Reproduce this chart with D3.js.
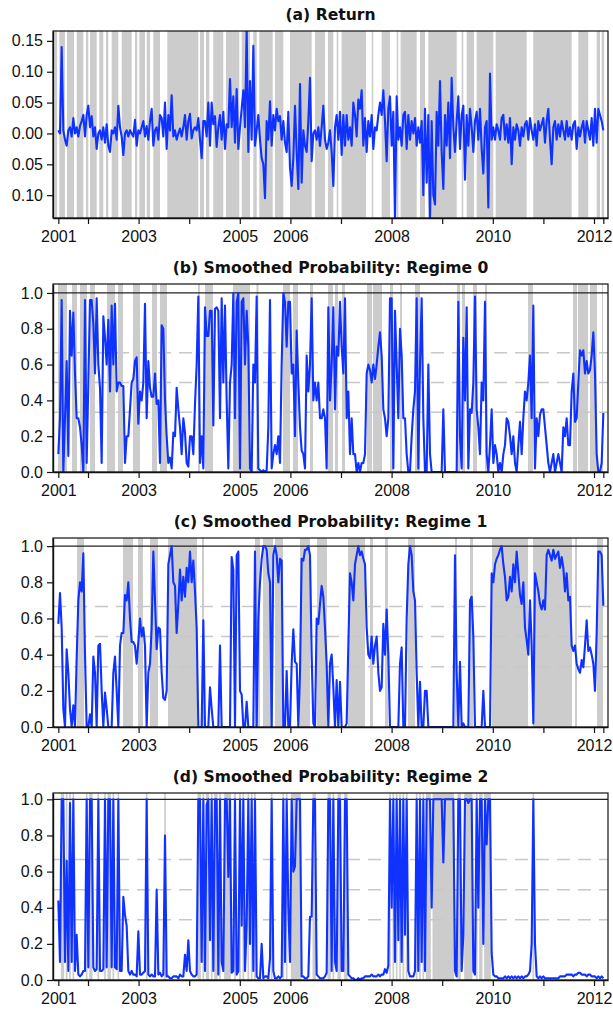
<!DOCTYPE html>
<html><head><meta charset="utf-8">
<script src="https://cdn.jsdelivr.net/npm/d3@7"></script>
<style>body{margin:0;background:#fff}</style>
</head><body><svg id="c" width="613" height="1012"></svg>
<script>
// ---------- data ----------
const startYear = 2001.4137;   // first observation (mid 2001)
const stepYear = 0.032938;     // spacing between observations (years)

const returns = [
0.005,0.0,0.14,0.005,-0.01,-0.02,0.005,0.01,-0.005,0.025,
0.0,0.01,-0.005,0.012,0.02,0.03,-0.005,0.03,0.045,0.01,
0.028,-0.005,0.01,-0.025,0.0,0.005,-0.01,0.01,-0.015,0.015,
-0.02,-0.03,0.005,0.0,0.01,-0.01,0.045,0.01,-0.005,-0.035,
0.0,0.005,-0.005,0.005,0.0,-0.005,0.022,-0.02,0.005,0.0,
0.01,0.02,-0.005,0.012,-0.01,0.02,0.04,-0.02,0.005,0.01,
-0.01,0.03,0.025,-0.005,0.05,-0.025,0.03,0.005,0.062,-0.005,
0.005,-0.01,0.0,0.008,-0.005,0.01,0.03,-0.01,0.02,0.032,
-0.008,0.005,0.01,0.005,0.025,-0.01,-0.04,0.02,0.02,-0.005,
0.05,-0.02,0.05,0.015,0.028,-0.022,0.01,0.03,-0.01,0.035,
-0.025,0.015,0.01,0.088,0.01,0.06,-0.015,0.072,-0.025,0.01,
0.04,0.07,0.01,0.168,-0.03,0.085,-0.01,0.142,-0.02,0.005,
0.03,-0.01,-0.04,-0.05,-0.105,0.02,-0.01,0.052,-0.02,0.03,
0.005,0.04,0.02,0.028,-0.01,0.02,-0.015,-0.03,0.035,-0.055,
-0.085,-0.04,0.045,-0.03,-0.09,
0.08,-0.08,0.005,-0.02,-0.03,0.02,0.09,-0.045,0.0,0.005,
-0.01,0.01,-0.02,0.01,0.045,-0.01,-0.025,-0.015,0.005,-0.03,
-0.085,0.01,0.03,-0.01,0.035,-0.035,0.03,-0.02,0.03,-0.01,
0.01,-0.02,0.05,0.03,-0.005,0.055,0.04,0.07,-0.02,0.025,
-0.03,0.02,-0.005,0.03,-0.025,0.01,0.005,0.03,0.05,0.03,
0.07,0.02,-0.045,0.04,0.06,-0.02,0.035,-0.14,0.06,-0.01,
0.01,-0.02,0.03,0.035,-0.025,0.03,-0.01,0.02,0.0,0.025,
-0.02,0.01,-0.015,0.02,-0.1,0.04,-0.08,0.03,-0.14,0.02,
-0.1,-0.115,0.035,-0.02,0.085,-0.03,-0.09,0.03,-0.02,0.05,
-0.04,0.09,0.01,-0.03,0.02,0.06,-0.025,0.03,0.045,-0.075,
0.03,-0.02,0.04,0.01,-0.03,0.02,0.035,-0.01,0.04,-0.025,
-0.065,0.01,0.02,-0.12,0.097,-0.01,0.01,-0.01,0.015,0.005,
-0.01,0.025,0.03,-0.01,0.015,-0.015,0.025,-0.05,0.01,-0.01,
0.015,0.005,-0.02,0.01,-0.005,0.015,0.02,-0.01,0.025,0.005,
-0.01,0.015,-0.02,0.02,0.005,0.015,0.025,-0.015,0.02,0.04,
-0.01,-0.05,0.01,0.02,-0.01,0.015,-0.005,0.02,0.005,-0.01,
0.02,-0.005,0.01,-0.01,0.015,0.02,-0.025,0.01,-0.005,0.01,
0.02,-0.015,0.02,0.005,-0.01,0.025,-0.02,0.04,-0.015,0.04,
0.03,0.02,0.005
];

const prob0 = [
0.1,0.3,0.96,0.0,0.3,0.62,0.09,0.9,0.65,0.89,
0.55,0.3,0.3,0.25,0.15,0.0,0.96,0.05,0.5,0.96,
0.96,0.83,0.55,0.97,0.6,0.47,0.05,0.87,0.75,0.6,
0.85,0.45,0.93,0.6,0.94,0.45,0.5,0.5,0.48,0.48,
0.05,0.2,0.2,0.35,0.5,0.52,0.62,0.64,0.27,0.45,
0.4,0.5,0.94,0.3,0.62,0.47,0.42,0.42,0.55,0.38,
0.4,0.05,0.82,0.8,0.4,0.2,0.05,0.08,0.02,0.22,
0.2,0.47,0.35,0.25,0.1,0.3,0.22,0.05,0.03,0.2,
0.2,0.1,0.38,0.6,0.98,0.05,0.2,0.02,0.92,0.76,
0.76,0.9,0.9,0.26,0.91,0.92,0.9,0.3,0.97,0.5,
0.93,0.4,0.02,0.5,0.6,1.0,0.3,0.95,1.0,0.02,
0.95,0.97,0.6,0.9,0.7,0.02,0.0,0.6,0.5,0.98,
0.02,0.01,0.0,0.01,0.0,0.01,0.25,0.96,0.02,0.1,
0.15,0.1,0.2,0.05,0.6,1.0,0.95,0.7,0.95,0.95,
0.55,0.6,0.2,0.79,0.5,
0.25,0.12,0.1,0.02,0.65,0.45,0.6,0.97,0.4,0.5,
0.4,0.5,0.3,0.3,0.35,0.3,0.02,0.92,0.4,0.6,
0.92,0.35,0.7,0.65,0.95,0.7,0.55,0.97,0.3,0.45,
0.1,0.3,0.1,0.1,0.0,0.05,0.0,0.05,0.05,0.1,
0.55,0.6,0.57,0.5,0.6,0.52,0.6,0.7,0.78,0.65,
0.35,0.3,0.2,0.3,0.97,0.97,0.02,0.9,0.6,0.3,
0.8,0.65,0.3,0.3,0.1,0.0,0.0,0.2,0.35,0.45,
0.97,0.02,0.6,0.97,0.3,0.0,0.0,0.6,0.1,0.0,
0.0,0.0,0.0,0.0,0.0,0.0,0.35,0.0,0.0,0.0,
0.0,0.0,0.0,0.0,0.0,0.95,0.2,0.02,0.75,0.4,
0.92,0.02,0.35,0.33,0.5,0.98,0.35,0.25,0.1,0.5,
0.4,0.95,0.1,0.0,0.15,0.35,0.05,0.15,0.1,0.0,
0.05,0.0,0.1,0.15,0.3,0.28,0.2,0.1,0.2,0.05,
0.0,0.15,0.28,0.1,0.3,0.45,0.4,0.5,0.65,0.3,
0.93,0.02,0.3,0.2,0.32,0.35,0.35,0.25,0.15,0.05,
0.0,0.05,0.1,0.0,0.05,0.1,0.05,0.0,0.25,0.2,
0.3,0.15,0.15,0.45,0.55,0.28,0.3,0.5,0.68,0.65,
0.68,0.55,0.62,0.55,0.57,0.65,0.78,0.55,0.1,0.0,
0.0,0.05,0.33
];

const prob1 = [
0.57,0.74,0.55,0.1,0.0,0.43,0.3,0.1,0.0,0.12,
0.0,0.38,0.7,0.8,0.75,0.96,0.4,0.0,0.0,0.07,
0.0,0.39,0.3,0.0,0.45,0.46,0.2,0.0,0.19,0.1,
0.0,0.0,0.0,0.3,0.39,0.2,0.0,0.45,0.52,0.52,
0.73,0.7,0.8,0.6,0.47,0.47,0.45,0.35,0.47,0.6,
0.5,0.55,0.45,0.0,0.3,0.35,0.55,0.97,0.7,0.43,
0.55,0.54,0.3,0.16,0.15,0.2,0.9,0.95,1.0,0.8,
0.78,0.52,0.68,0.87,0.7,0.83,0.72,0.88,0.8,0.97,
0.8,0.92,0.75,0.55,0.0,0.0,0.0,0.59,0.0,0.0,
0.0,0.22,0.1,0.0,0.0,0.0,0.0,0.45,0.0,0.0,
0.0,0.0,0.0,0.0,0.94,0.87,0.0,0.95,0.97,0.2,
0.18,0.0,0.0,0.14,0.0,0.0,0.0,0.0,0.97,0.0,
0.6,0.8,0.93,1.0,1.0,0.98,0.85,0.8,0.0,0.95,
1.0,0.95,0.8,0.93,0.92,0.0,0.0,0.31,0.0,0.0,
0.35,0.54,0.36,0.35,0.0,
0.3,0.93,0.92,0.98,0.98,1.0,0.95,0.4,0.02,0.0,
0.6,0.57,0.68,0.78,0.72,0.55,0.35,0.0,0.35,0.4,
0.22,0.0,0.26,0.0,0.25,0.0,0.0,0.0,0.02,0.45,
0.85,0.8,0.7,0.9,0.95,1.0,0.95,0.97,0.93,0.9,
0.55,0.4,0.38,0.5,0.35,0.45,0.5,0.3,0.2,0.22,
0.57,0.4,0.65,0.4,0.0,0.0,0.0,0.0,0.0,0.0,
0.35,0.44,0.0,0.0,0.6,0.9,1.0,0.95,0.75,0.7,
0.3,0.0,0.25,0.0,0.0,0.2,0.2,0.0,0.0,0.0,
0.0,0.0,0.0,0.0,0.0,0.0,0.0,0.0,0.0,0.0,
0.0,0.0,0.0,0.95,0.3,0.0,0.36,0.0,0.02,0.0,
0.0,0.0,0.7,0.72,0.5,0.0,0.0,0.0,0.0,0.0,
0.2,0.0,0.0,0.0,0.0,0.85,0.8,0.9,0.93,0.95,
0.98,1.0,0.9,0.83,0.7,0.72,0.83,0.75,0.9,0.8,
0.97,0.85,0.73,0.68,0.8,0.55,0.48,0.4,0.7,0.45,
0.02,0.85,0.8,0.75,0.68,0.65,0.7,0.65,0.95,0.98,
0.95,0.92,0.98,0.93,0.95,0.97,0.88,0.94,0.88,0.75,
0.85,0.7,0.72,0.45,0.42,0.45,0.35,0.32,0.3,0.37,
0.33,0.45,0.59,0.42,0.44,0.4,0.35,0.2,0.52,0.97,
0.97,0.95,0.67
];

const prob2 = [
0.44,0.1,1.0,1.0,0.1,0.66,0.05,0.98,0.1,1.0,
0.05,0.25,0.03,0.02,0.03,0.05,0.05,1.0,0.07,1.0,
1.0,0.07,0.05,0.06,1.0,0.05,0.05,0.06,1.0,0.07,
1.0,1.0,0.07,1.0,0.07,0.06,1.0,0.05,0.05,0.46,
0.36,0.3,0.05,0.03,0.05,0.03,0.03,0.02,0.27,0.03,
0.03,0.04,0.05,1.0,0.03,0.02,0.03,0.02,0.02,0.5,
0.03,0.04,0.02,0.03,0.8,0.02,0.02,0.01,0.01,0.02,
0.02,0.02,0.01,0.03,0.02,0.02,0.14,0.05,0.22,0.05,
0.03,0.02,0.02,0.03,1.0,1.0,0.1,1.0,0.05,0.97,
1.0,0.22,1.0,0.05,1.0,1.0,0.03,1.0,0.1,0.05,
1.0,1.0,0.57,1.0,0.04,0.05,1.0,0.03,0.05,1.0,
0.3,1.0,0.05,0.3,1.0,0.2,1.0,0.05,1.0,0.02,
0.01,0.01,0.2,0.01,0.02,0.02,0.01,0.12,1.0,0.05,
0.01,0.01,0.02,0.01,0.02,1.0,0.1,1.0,0.4,0.1,
1.0,0.6,0.63,1.0,1.0,
1.0,0.02,0.02,0.01,0.01,0.02,0.35,0.35,1.0,1.0,
0.03,0.02,0.01,0.01,0.01,0.02,0.04,1.0,1.0,0.05,
1.0,0.1,0.05,1.0,1.0,0.05,0.05,1.0,1.0,0.03,
0.02,0.01,0.01,0.0,0.0,0.01,0.0,0.01,0.01,0.02,
0.02,0.02,0.02,0.03,0.02,0.02,0.02,0.03,0.02,0.03,
0.03,0.06,0.04,0.08,1.0,0.4,1.0,0.1,1.0,0.22,
1.0,0.1,1.0,0.25,1.0,0.05,0.02,0.02,0.02,0.05,
1.0,0.05,1.0,0.1,1.0,0.05,1.0,1.0,1.0,0.4,
1.0,1.0,1.0,1.0,1.0,1.0,0.65,1.0,1.0,1.0,
1.0,1.0,1.0,0.05,0.02,1.0,1.0,0.05,0.25,1.0,
1.0,0.98,1.0,1.0,0.05,0.03,1.0,0.4,1.0,1.0,
0.2,1.0,0.75,1.0,1.0,0.15,0.03,0.02,0.02,0.01,
0.01,0.01,0.01,0.02,0.01,0.02,0.01,0.02,0.01,0.02,
0.01,0.02,0.01,0.02,0.01,0.02,0.02,0.03,0.05,0.2,
1.0,0.2,0.02,0.01,0.02,0.01,0.02,0.01,0.01,0.01,
0.01,0.01,0.01,0.01,0.01,0.01,0.02,0.02,0.02,0.02,
0.03,0.03,0.03,0.03,0.02,0.03,0.03,0.04,0.04,0.03,
0.03,0.03,0.02,0.03,0.03,0.02,0.02,0.02,0.01,0.02,
0.01,0.02,0.01
];

// shaded periods (years)
const returnGaps = [
[2001.39,2001.433],[2001.545,2001.585],[2001.723,2001.777],[2001.907,2001.96],[2002.006,2002.04],
[2002.172,2002.223],[2002.302,2002.356],[2002.401,2002.468],[2002.599,2002.666],[2002.864,2002.929],
[2002.974,2003.014],[2003.126,2003.16],[2003.225,2003.291],[2003.423,2003.567],[2004.18,2004.213],
[2004.292,2004.332],[2004.397,2004.476],[2004.674,2004.727],[2004.99,2005.038],[2005.202,2005.267],
[2005.334,2005.385],[2005.65,2005.696],[2005.86,2005.992],[2006.421,2006.486],[2006.684,2006.743],
[2006.848,2006.915],[2006.947,2007.012],[2007.494,2007.607],[2007.638,2007.804],[2007.968,2008.101],
[2008.132,2008.178],[2008.496,2008.561],[2008.66,2008.725],[2009.287,2009.385],[2009.417,2009.484],
[2009.628,2009.682],[2010.01,2010.057],[2010.67,2010.8],[2011.559,2011.69],[2011.887,2012.053],
[2012.119,2012.152]
];
const regime0Bands = [
[2001.407,2001.585],[2001.684,2001.783],[2001.842,2001.98],[2002.04,2002.138],[2002.375,2002.534],
[2002.593,2002.692],[2002.889,2003.028],[2003.265,2003.364],[2003.423,2003.561],[2004.174,2004.213],
[2004.312,2004.47],[2004.866,2005.202],[2005.328,2005.368],[2005.854,2005.992],[2006.051,2006.15],
[2006.387,2006.447],[2006.743,2006.842],[2006.881,2006.941],[2007.02,2007.079],[2007.514,2007.613],
[2007.632,2007.81],[2007.968,2008.028],[2008.166,2008.206],[2008.462,2008.561],[2009.292,2009.352],
[2009.391,2009.451],[2009.609,2009.688],[2009.846,2009.885],[2010.696,2010.794],[2011.585,2011.664],
[2011.684,2011.881],[2011.921,2012.059],[2012.158,2012.178]
];
const regime1Bands = [
[2001.783,2001.921],[2002.692,2002.889],[2002.988,2003.087],[2003.225,2003.383],[2003.581,2004.154],
[2004.253,2004.292],[2005.3,2005.399],[2005.458,2005.656],[2005.696,2005.854],[2006.19,2006.387],
[2006.526,2006.723],[2007.138,2007.474],[2007.573,2007.632],[2007.87,2007.929],[2008.324,2008.462],
[2009.253,2009.292],[2009.549,2009.609],[2009.984,2010.696],[2010.794,2011.565],[2011.625,2011.664],
[2012.059,2012.178]
];

const yearTicks = [2001.4137,2002,2003,2004,2005,2006,2007,2008,2009,2010,2011,2012,2012.1845];
const yearLabels = ["2001","","2003","","2005","2006","","2008","","2010","","2012",""];
const returnTicks = [-0.10,-0.05,0,0.05,0.10,0.15];
const returnTickLabels = ["0.10","0.05","0.00","0.05","0.10","0.15"];
const probTicks = [0,0.2,0.4,0.6,0.8,1.0];
const probTickLabels = ["0.0","0.2","0.4","0.6","0.8","1.0"];
const refLevels = [1/3, 1/2, 2/3];
const titles = ["(a) Return","(b) Smoothed Probability: Regime 0","(c) Smoothed Probability: Regime 1","(d) Smoothed Probability: Regime 2"];

// ---------- drawing ----------
const svg = d3.select("#c");
const L = 53, R = 608;
const x = d3.scaleLinear().domain([2001.3083, 2012.2767]).range([L, R]);
const tOf = i => startYear + i*stepYear;
const BLUE = "#0f32ff", GRAY = "#cccccc";

// derived band list for regime 2 (periods where probability > 0.5)
function bandsFrom(arr){
  const out=[]; let cur=null;
  arr.forEach((v,i)=>{
    const a=tOf(i)-stepYear/2, b=tOf(i)+stepYear/2;
    if(v>0.5){ if(cur) cur[1]=b; else {cur=[a,b]; out.push(cur);} } else cur=null;
  });
  return out;
}

const panels = [
  {top:31,  bottom:218, domain:[-0.137,0.166], data:returns, ticks:returnTicks, labels:returnTickLabels, kind:"ret"},
  {top:284, bottom:472, domain:[0,1.05],  data:prob0, ticks:probTicks, labels:probTickLabels, bands:regime0Bands},
  {top:538, bottom:727, domain:[0,1.045], data:prob1, ticks:probTicks, labels:probTickLabels, bands:regime1Bands},
  {top:793, bottom:980, domain:[0,1.035], data:prob2, ticks:probTicks, labels:probTickLabels, bands:bandsFrom(prob2)}
];

panels.forEach((p,pi)=>{
  const y = d3.scaleLinear().domain(p.domain).range([p.bottom, p.top]);
  const g = svg.append("g");
  const cid = "clip"+pi;
  svg.append("clipPath").attr("id",cid).append("rect")
    .attr("x",L).attr("y",p.top).attr("width",R-L).attr("height",p.bottom-p.top);
  const pg = g.append("g").attr("clip-path",`url(#${cid})`);

  if(p.kind==="ret"){
    pg.append("rect").attr("x",x(2001.34)).attr("y",p.top).attr("width",x(tOf(p.data.length-1)+0.015)-x(2001.34))
      .attr("height",p.bottom-p.top).attr("fill",GRAY);
    pg.selectAll("rect.gap").data(returnGaps).enter().append("rect").attr("class","gap")
      .attr("x",d=>x(d[0])).attr("width",d=>Math.max(1,x(d[1])-x(d[0])))
      .attr("y",p.top).attr("height",p.bottom-p.top).attr("fill","#fff");
  } else {
    pg.selectAll("rect.band").data(p.bands).enter().append("rect").attr("class","band")
      .attr("x",d=>x(d[0])).attr("width",d=>Math.max(1,x(d[1])-x(d[0])))
      .attr("y",p.top).attr("height",p.bottom-p.top).attr("fill",GRAY);
    pg.selectAll("line.ref").data(refLevels).enter().append("line")
      .attr("x1",L).attr("x2",R).attr("y1",d=>y(d)).attr("y2",d=>y(d))
      .attr("stroke","#c8c8c8").attr("stroke-width",1.5).attr("stroke-dasharray","13,8");
    pg.append("line").attr("x1",L).attr("x2",R).attr("y1",y(1)).attr("y2",y(1))
      .attr("stroke","#222").attr("stroke-width",1.2);
  }

  const line = d3.line().x((d,i)=>x(tOf(i))).y(d=>y(d));
  pg.append("path").datum(p.data).attr("d",line).attr("fill","none")
    .attr("stroke",BLUE).attr("stroke-width",2.1).attr("stroke-linejoin","round");

  // frame
  g.append("rect").attr("x",L).attr("y",p.top).attr("width",R-L).attr("height",p.bottom-p.top)
    .attr("fill","none").attr("stroke","#111").attr("stroke-width",1.2);

  // axes
  const yAxis = d3.axisLeft(y).tickValues(p.ticks).tickSize(6).tickPadding(4).tickSizeOuter(0)
    .tickFormat((d,i)=>p.labels[i]);
  const ya = g.append("g").attr("transform",`translate(${L},0)`).call(yAxis);
  const xAxis = d3.axisBottom(x).tickValues(yearTicks).tickSize(6).tickPadding(7).tickSizeOuter(0)
    .tickFormat((d,i)=>yearLabels[i]);
  const xa = g.append("g").attr("transform",`translate(0,${p.bottom})`).call(xAxis);
  [ya,xa].forEach(a=>{
    a.select(".domain").attr("stroke","#111").attr("stroke-width",1.4);
    a.selectAll(".tick line").attr("stroke","#111").attr("stroke-width",1.2);
    a.selectAll("text").attr("fill","#111").style("font-family","'Liberation Sans',Arial,sans-serif").style("font-size","16px");
  });

  svg.append("text").attr("x",(L+R)/2).attr("y",p.top-11).attr("text-anchor","middle")
    .style("font-family","'DejaVu Sans',Verdana,sans-serif").style("font-weight","bold").style("font-size","15.6px")
    .attr("fill","#111").text(titles[pi]);
});
</script>
</body></html>
